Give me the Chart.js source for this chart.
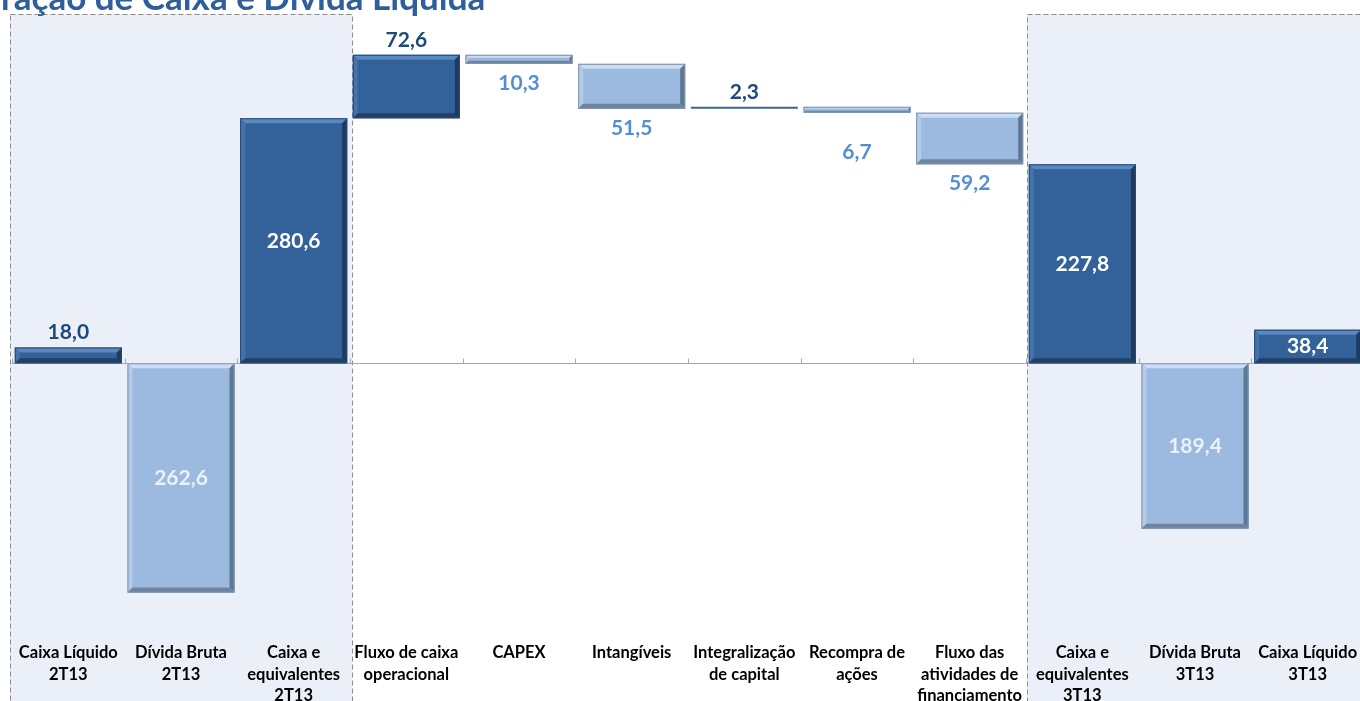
<!DOCTYPE html>
<html lang="pt">
<head>
<meta charset="utf-8">
<title>Geração de Caixa e Dívida Líquida</title>
<script src="https://cdn.jsdelivr.net/npm/chart.js@4/dist/chart.umd.min.js"></script>
<style>
  html, body { margin: 0; padding: 0; background: #fff; overflow: hidden; }
  #wrap { position: absolute; left: 0; top: 0; width: 1364px; height: 701px; }
  #titulo { position: absolute; left: -44px; top: -21px; font: bold 35px Lato, sans-serif; line-height: 35px; color: #2F5F9A; white-space: nowrap; }
</style>
</head>
<body>
<div id="wrap"><canvas id="fluxoChart"></canvas></div>
<div id="titulo"><span id="ge">Ge</span>ração de Caixa e Dívida Líquida</div>
<script>
// Dados do gráfico (R$ milhões)
const categorias = [
    ['Caixa Líquido', '2T13'],
    ['Dívida Bruta', '2T13'],
    ['Caixa e', 'equivalentes', '2T13'],
    ['Fluxo de caixa', 'operacional'],
    ['CAPEX'],
    ['Intangíveis'],
    ['Integralização', 'de capital'],
    ['Recompra de', 'ações'],
    ['Fluxo das', 'atividades de', 'financiamento'],
    ['Caixa e', 'equivalentes', '3T13'],
    ['Dívida Bruta', '3T13'],
    ['Caixa Líquido', '3T13']
];
const valores = [18.0, -262.6, 280.6, 72.6, -10.3, -51.5, 2.3, -6.7, -59.2, 227.8, -189.4, 38.4];
const tipos = ['total', 'total', 'total', 'var', 'var', 'var', 'var', 'var', 'var', 'total', 'total', 'total'];

// o título começa cortado: "Ge" fica fora da tela
document.getElementById('titulo').style.left = (-document.getElementById('ge').offsetWidth + 1) + 'px';

// Monta as faixas da cascata (início, fim) de cada barra
let acumulado = 0;
const faixas = valores.map((v, i) => {
    if (tipos[i] === 'total') {
        if (v > 0) acumulado = v;
        return [0, v];
    }
    const ini = acumulado;
    acumulado += v;
    return [ini, acumulado];
});

const corEscura = { face: '#33619A', topo: '#5B88BF', esq: '#4572A9', dir: '#1D3B61', baixo: '#223F65', borda: '#2A4A73' };
const corClara = { face: '#9CBAE0', topo: '#CADDF4', esq: '#B2CBEA', dir: '#5D7797', baixo: '#6C84A2', borda: '#8394AA' };
const paleta = (i) => valores[i] >= 0 ? corEscura : corClara;

const fmt = (v) => Math.abs(v).toFixed(1).replace('.', ',');

// Fundo tracejado das áreas de posição (2T13 e 3T13) e linha do zero
const fundoPlugin = {
    id: 'fundo',
    beforeDraw(chart) {
        const ctx = chart.ctx;
        const xs = chart.scales.x;
        const ys = chart.scales.y;
        const passo = xs.getPixelForValue(1) - xs.getPixelForValue(0);
        const topo = chart.chartArea.top;
        const fundo = chart.height + 10;
        const caixas = [
            [xs.getPixelForValue(0) - passo / 2 - 2, xs.getPixelForValue(2) + passo / 2 + 2],
            [xs.getPixelForValue(9) - passo / 2 + 1, chart.width + 10]
        ];
        ctx.save();
        caixas.forEach(([x1, x2]) => {
            ctx.fillStyle = '#EBEFF7';
            ctx.fillRect(x1, topo, x2 - x1, fundo - topo);
            ctx.setLineDash([5, 3]);
            ctx.strokeStyle = '#8C8C8C';
            ctx.lineWidth = 1;
            ctx.strokeRect(Math.round(x1) + 0.5, topo + 0.5, x2 - x1, fundo - topo);
        });
        ctx.setLineDash([]);
        const y0 = Math.round(ys.getPixelForValue(0)) + 0.5;
        ctx.strokeStyle = '#A6A6A6';
        ctx.beginPath();
        ctx.moveTo(chart.chartArea.left, y0);
        ctx.lineTo(chart.width, y0);
        for (let i = 0; i <= categorias.length; i++) {
            const x = Math.round(xs.getPixelForValue(0) - passo / 2 + i * passo) + 0.5;
            ctx.moveTo(x, y0);
            ctx.lineTo(x, y0 - 5);
        }
        ctx.stroke();
        ctx.restore();
    }
};

function poligono(ctx, pts, cor) {
    ctx.fillStyle = cor;
    ctx.beginPath();
    ctx.moveTo(pts[0][0], pts[0][1]);
    for (let k = 1; k < pts.length; k++) ctx.lineTo(pts[k][0], pts[k][1]);
    ctx.closePath();
    ctx.fill();
}

// Efeito de chanfro nas barras + rótulos de dados
const chanfroPlugin = {
    id: 'chanfro',
    afterDatasetsDraw(chart) {
        const ctx = chart.ctx;
        const meta = chart.getDatasetMeta(0);
        ctx.save();
        meta.data.forEach((bar, i) => {
            const l = bar.x - bar.width / 2;
            const r = bar.x + bar.width / 2;
            const t = Math.min(bar.y, bar.base);
            const b = Math.max(bar.y, bar.base);
            const h = b - t;
            const c = paleta(i);
            if (h >= 4) {
                const e = Math.min(5, h / 3);
                poligono(ctx, [[l, t], [r, t], [r - e, t + e], [l + e, t + e]], c.topo);
                poligono(ctx, [[l, t], [l + e, t + e], [l + e, b - e], [l, b]], c.esq);
                poligono(ctx, [[r, t], [r, b], [r - e, b - e], [r - e, t + e]], c.dir);
                poligono(ctx, [[l, b], [r, b], [r - e, b - e], [l + e, b - e]], c.baixo);
                ctx.strokeStyle = c.borda;
                ctx.lineWidth = 1;
                ctx.strokeRect(l + 0.5, t + 0.5, r - l - 1, h - 1);
            }

            // rótulo
            ctx.font = 'bold 21px Lato, sans-serif';
            ctx.textAlign = 'center';
            ctx.textBaseline = 'middle';
            let y, cor;
            if (tipos[i] === 'total' && h > 25) {
                y = (t + b) / 2;
                cor = valores[i] >= 0 ? '#FFFFFF' : '#EAF1FA';
            } else if (valores[i] >= 0) {
                y = t - 15;
                cor = '#1F497D';
            } else {
                y = b + 19 + (i === 7 ? 21 : 0);
                cor = '#558ED5';
            }
            ctx.fillStyle = cor;
            ctx.fillText(fmt(valores[i]), bar.x, y);
        });
        ctx.restore();
    }
};

const ctx = document.getElementById('fluxoChart').getContext('2d');
new Chart(ctx, {
    type: 'bar',
    data: {
        labels: categorias,
        datasets: [{
            data: faixas,
            backgroundColor: valores.map((v, i) => i === 6 ? '#3A6699' : paleta(i).face),
            borderWidth: 0,
            categoryPercentage: 1,
            barPercentage: 0.95
        }]
    },
    options: {
        responsive: true,
        maintainAspectRatio: false,
        animation: false,
        layout: { padding: { left: 12, top: 14, right: 0, bottom: 0 } },
        plugins: {
            legend: { display: false },
            tooltip: { enabled: false }
        },
        scales: {
            x: {
                grid: { display: false },
                border: { display: false },
                ticks: {
                    color: '#000000',
                    font: { family: 'Lato, sans-serif', weight: 'bold', size: 16.5, lineHeight: 1.3 },
                    padding: 0,
                    maxRotation: 0,
                    autoSkip: false
                },
                afterFit(scale) { scale.height = 67; }
            },
            y: {
                display: false,
                min: -310,
                max: 400
            }
        }
    },
    plugins: [fundoPlugin, chanfroPlugin]
});
</script>
</body>
</html>
